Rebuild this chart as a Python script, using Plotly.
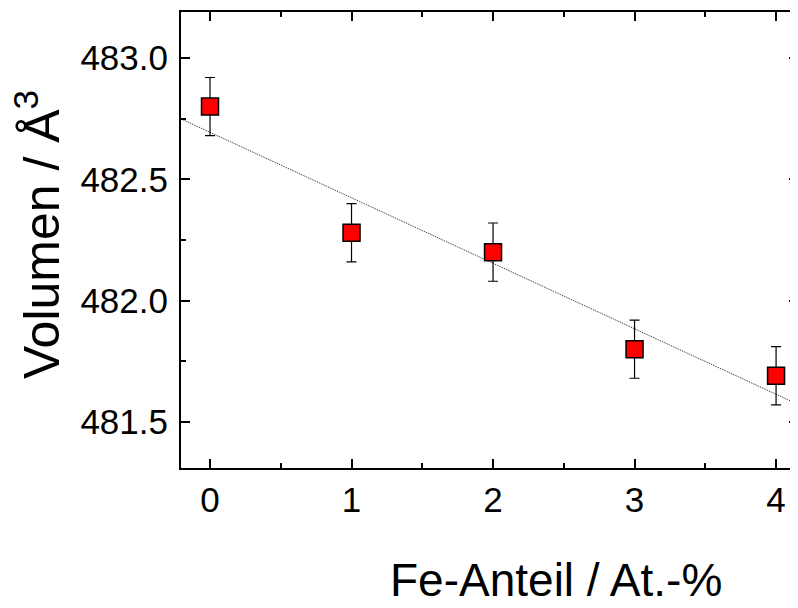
import numpy as np
import plotly.graph_objects as go

fe_percent = [0, 1, 2, 3, 4]
volume = [482.80, 482.28, 482.20, 481.80, 481.69]
volume_err = [0.12, 0.12, 0.12, 0.12, 0.12]

x_range = [-0.205, 4.155]
y_range = [481.31, 483.19]

slope, intercept = np.polyfit(fe_percent, volume, 1)
fit_x = np.array(x_range)
fit_y = slope * fit_x + intercept

FONT = "Liberation Sans, Arial, sans-serif"

fig = go.Figure()
fig.add_trace(go.Scatter(
    x=fit_x, y=fit_y, mode="lines",
    line=dict(color="#222222", width=1, dash="1px,1px"),
    showlegend=False, hoverinfo="skip", cliponaxis=True))
fig.add_trace(go.Scatter(
    x=fe_percent, y=volume, mode="markers",
    marker=dict(symbol="square", size=17, color="#ff0000",
                line=dict(color="black", width=1.5)),
    error_y=dict(type="data", array=volume_err, visible=True,
                 color="black", thickness=1.2, width=5),
    showlegend=False, cliponaxis=False))

axis_common = dict(
    showline=True, linecolor="black", linewidth=2, mirror="allticks",
    ticks="inside", ticklen=9, tickwidth=2, tickcolor="black",
    showgrid=False, zeroline=False,
    tickfont=dict(family=FONT, size=35, color="black"),
)

fig.update_xaxes(range=x_range, dtick=1, tick0=0, ticklabelstandoff=0,
                 minor=dict(dtick=0.5, ticks="inside", ticklen=5, tickwidth=2, tickcolor="black"),
                 **axis_common)
fig.update_yaxes(range=y_range, dtick=0.5, tick0=481.5, tickformat=".1f", ticklabelstandoff=4,
                 minor=dict(dtick=0.25, ticks="inside", ticklen=5, tickwidth=2, tickcolor="black"),
                 **axis_common)

L, T, R, B = 173, 4, 790, 460
PW, PH = R - L, B - T

fig.update_layout(
    width=798, height=608,
    margin=dict(l=L, r=798 - R, t=T, b=608 - B, autoexpand=False),
    plot_bgcolor="white", paper_bgcolor="white",
    font=dict(family=FONT, color="black"),
    annotations=[
        dict(text="Fe-Anteil / At.-%", xref="paper", yref="paper",
             x=(548 - L) / PW, y=(B - 572) / PH, xanchor="center", yanchor="middle",
             showarrow=False, font=dict(family=FONT, size=46, color="black")),
        dict(text="Volumen / Å<sup>3</sup>", xref="paper", yref="paper",
             x=(30 - L) / PW, y=(B - 227) / PH, xanchor="center", yanchor="middle",
             textangle=-90, showarrow=False, font=dict(family=FONT, size=50, color="black")),
    ],
)

fig.write_html("out.html")
